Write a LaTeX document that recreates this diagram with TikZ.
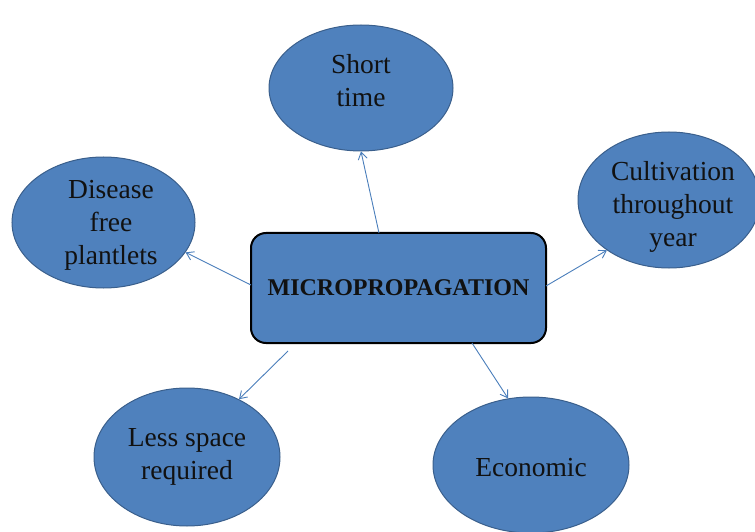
\documentclass[tikz,border=0pt]{standalone}
\usepackage{fontspec}
\setmainfont{Liberation Serif}
\usetikzlibrary{arrows.meta,shapes.geometric}
\definecolor{fillblue}{HTML}{4F81BD}
\definecolor{edgeblue}{HTML}{3A5F8C}
\definecolor{arrowblue}{HTML}{4A7EBB}
\definecolor{txt}{HTML}{111111}
\tikzset{
  bubble/.style={ellipse, draw=edgeblue, line width=1pt, fill=fillblue, inner sep=0pt,
    align=center, text=txt, font=\fontsize{27.5}{33}\selectfont},
  bubbletext/.style={text=txt, align=center, inner sep=0pt, font=\fontsize{27.5}{33}\selectfont},
  hub/.style={rectangle, rounded corners=15pt, draw=black, line width=2pt, fill=fillblue,
    minimum width=295pt, minimum height=110pt, text=txt,
    font=\fontsize{24}{27}\selectfont\bfseries},
  link/.style={draw=arrowblue, line width=0.9pt, -{Straight Barb[length=7pt,width=9pt]}}
}
\begin{document}
\begin{tikzpicture}[x=1pt,y=1pt]
\useasboundingbox (0,0) rectangle (755,531);
\clip (0,0) rectangle (755,531);
\node[hub] (hub) at (398.5,243) {MICROPROPAGATION};
\node[bubble, minimum width=184pt, minimum height=126pt] (short) at (361,443) {};
\node[bubbletext] (shorttxt) at (361,450) {Short\\time};
\node[bubble, minimum width=182pt, minimum height=136pt] (cult) at (669,331) {};
\node[bubbletext] (culttxt) at (673,324) {Cultivation\\throughout\\year};
\node[bubble, minimum width=183pt, minimum height=131pt] (dis) at (103.5,308.5) {};
\node[bubbletext] (distxt) at (111,306) {Disease\\free\\plantlets};
\node[bubble, minimum width=186pt, minimum height=138pt] (less) at (187,74) {Less space\\required};
\node[bubble, minimum width=196pt, minimum height=136pt] (econ) at (531,66) {};
\node[bubbletext] (econtxt) at (531,63) {Economic};
\coordinate (s1) at (379,298);
\coordinate (s2) at (546,245);
\coordinate (s3) at (251,246);
\coordinate (s4) at (288,180);
\coordinate (s5) at (472,188);
\draw[link] (s1) -- (short.south);
\draw[link] (s2) -- (cult.219);
\draw[link] (s3) -- (dis.-20);
\draw[link] (s4) -- (less.48);
\draw[link] (s5) -- (econ.109);
\end{tikzpicture}
\end{document}
